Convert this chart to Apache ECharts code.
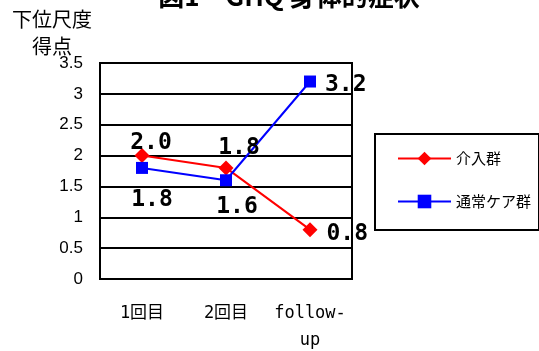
<!DOCTYPE html>
<html>
<head>
<meta charset="utf-8">
<script src="https://cdn.jsdelivr.net/npm/echarts@6/dist/echarts.min.js"></script>
<style>
  html, body { margin: 0; padding: 0; background: #fff; }
  #chart { width: 539px; height: 351px; }
</style>
</head>
<body>
<div id="chart"></div>
<script>
// Measurement occasions
const categories = ['1回目', '2回目', 'follow-\nup'];
// Mean subscale scores per group
const interventionScores = [2.0, 1.8, 0.8];
const usualCareScores = [1.8, 1.6, 3.2];
const seriesNames = ['介入群', '通常ケア群'];
const yTicks = { min: 0, max: 3.5, step: 0.5 };
const yAxisTitleLines = ['下位尺度', '得点'];

// Where each value label sits relative to its point
const interventionLabelPlacement = [
  { position: 'top', offset: [9, 11] },
  { position: 'top', offset: [13, 4] },
  { position: 'right', offset: [4, 4] }
];
const usualCareLabelPlacement = [
  { position: 'bottom', offset: [10, 10] },
  { position: 'bottom', offset: [11, 4] },
  { position: 'right', offset: [4, 4] }
];

const valueLabelStyle = {
  show: true,
  color: '#000',
  fontFamily: 'DejaVu Sans Mono',
  fontWeight: 'bold',
  fontSize: 23,
  formatter: p => p.value.toFixed(1)
};

function buildData(values, placement) {
  return values.map((v, i) => ({
    value: v,
    label: Object.assign({}, valueLabelStyle, placement[i])
  }));
}

const chart = echarts.init(document.getElementById('chart'));
chart.setOption({
  animation: false,
  backgroundColor: '#fff',
  textStyle: { fontFamily: '"Noto Sans CJK JP", sans-serif' },
  title: {
    text: '図1　GHQ 身体的症状',
    left: 284,
    textAlign: 'center',
    top: -22,
    textStyle: { fontSize: 26, fontWeight: 'bold', color: '#000', fontFamily: '"Noto Sans CJK JP", sans-serif' }
  },
  graphic: yAxisTitleLines.map((line, i) => ({
    type: 'text',
    x: 52,
    y: 19 + i * 27,
    style: {
      text: line,
      align: 'center',
      verticalAlign: 'middle',
      fill: '#000',
      font: '20px "Noto Sans CJK JP"'
    }
  })),
  grid: {
    left: 100, right: 187, top: 63, bottom: 72,
    outerBoundsMode: 'none',
    show: true, borderColor: '#000', borderWidth: 2, backgroundColor: '#fff'
  },
  legend: {
    orient: 'vertical',
    left: 375,
    top: 134,
    width: 163,
    padding: [17, 8, 21, 22],
    itemGap: 28,
    itemWidth: 53,
    itemHeight: 17,
    borderColor: '#000',
    borderWidth: 2,
    textStyle: { fontSize: 15, color: '#000' },
    data: seriesNames
  },
  xAxis: {
    type: 'category',
    data: categories,
    boundaryGap: true,
    axisLine: { lineStyle: { color: '#000', width: 2 } },
    axisTick: { inside: true, length: 6, lineStyle: { color: '#000', width: 1.5 } },
    axisLabel: {
      interval: 0,
      hideOverlap: false,
      color: '#000', fontSize: 17, margin: 21, lineHeight: 27,
      fontFamily: '"DejaVu Sans Mono", "Noto Sans CJK JP", monospace'
    }
  },
  yAxis: {
    type: 'value',
    min: yTicks.min,
    max: yTicks.max,
    interval: yTicks.step,
    axisLine: { show: true, lineStyle: { color: '#000', width: 2 } },
    axisTick: { show: false },
    axisLabel: { color: '#000', fontSize: 17, margin: 17, fontFamily: '"Liberation Sans", sans-serif' },
    splitLine: { lineStyle: { color: '#000', width: 2 } }
  },
  series: [
    {
      name: seriesNames[0],
      type: 'line',
      data: buildData(interventionScores, interventionLabelPlacement),
      symbol: 'diamond',
      symbolSize: 15,
      lineStyle: { color: '#ff0000', width: 2 },
      itemStyle: { color: '#ff0000' }
    },
    {
      name: seriesNames[1],
      type: 'line',
      data: buildData(usualCareScores, usualCareLabelPlacement),
      symbol: 'rect',
      symbolSize: 12,
      lineStyle: { color: '#0000ff', width: 2 },
      itemStyle: { color: '#0000ff' }
    }
  ]
});
</script>
</body>
</html>
